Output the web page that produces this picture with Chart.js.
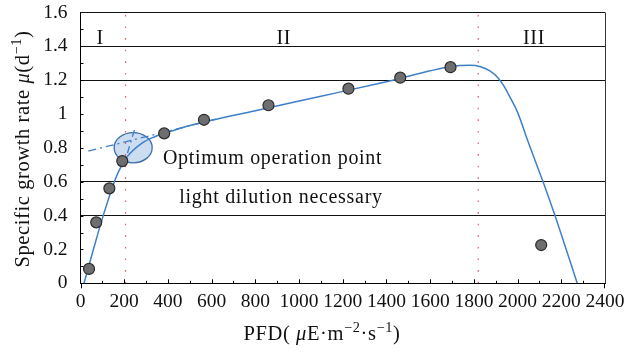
<!DOCTYPE html>
<html>
<head>
<meta charset="utf-8">
<script src="https://cdn.jsdelivr.net/npm/chart.js@4.4.1/dist/chart.umd.min.js"></script>
<style>
  html, body { margin: 0; padding: 0; background: #fff; }
  #wrap { width: 629px; height: 353px; }
</style>
</head>
<body>
<div id="wrap"><canvas id="myChart"></canvas></div>
<script>
// measured points
const pfd = [39, 72, 132, 191, 383, 565, 860, 1226, 1463, 1693, 2108];
const growth = [0.085, 0.36, 0.561, 0.722, 0.886, 0.966, 1.052, 1.15, 1.215, 1.277, 0.226];

// fitted curve
const fitX = [16, 59, 104, 155, 178, 215, 280, 340, 390, 510, 800, 1100, 1400, 1693, 1782, 1830, 1873, 1910, 1940, 1965, 2000, 2050, 2117, 2171, 2273];
const fitY = [0, 0.2, 0.4, 0.6, 0.67, 0.75, 0.827, 0.866, 0.888, 0.935, 1.02, 1.105, 1.191, 1.28, 1.288, 1.28, 1.255, 1.215, 1.16, 1.1, 1.01, 0.83, 0.598, 0.4, 0];

// dash-dot extensions of the two linear parts
const extIIX = [36, 620];
const extIIY = [0.781, 0.97];
const extIX = [215, 250];
const extIY = [0.77, 0.92];

// region borders
const borderX = [206, 1820];

const xTickLabels = ["0", "200", "400", "600", "800", "1000", "1200", "1400", "1600", "1800", "2000", "2200", "2400"];
const yTickLabels = ["0", "0.2", "0.4", "0.6", "0.8", "1", "1.2", "1.4", "1.6"];
const gridY = [0.4, 0.6, 1.2, 1.4, 1.6];

const regions = [
  { text: "I", x: 90, y: 1.413 },
  { text: "II", x: 930, y: 1.413 },
  { text: "III", x: 2075, y: 1.413 },
];
const notes = [
  { text: "Optimum operation point", x: 377, y: 0.705 },
  { text: "light dilution necessary", x: 452, y: 0.474 },
];
const optimum = { x: 241, y: 0.801, rx: 87, ry: 0.089 };

const SERIF = "'Liberation Serif', 'DejaVu Serif', serif";
const BLUE = "#3f7fc8";

function pts(xs, ys) {
  return xs.map((x, i) => ({ x: x, y: ys[i] }));
}

const borderSets = borderX.map((x) => ({
  type: "line",
  data: [{ x: x, y: 0 }, { x: x, y: 1.6 }],
  borderColor: "#e45b5b",
  borderWidth: 1.2,
  borderDash: [1.6, 10],
  pointRadius: 0,
  order: 5,
}));

function drawRich(ctx, parts, size) {
  const sup = size * 0.7;
  let w = 0;
  parts.forEach((p) => {
    ctx.font = (p[1] === "i" ? "italic " : "") + (p[1] === "s" ? sup : size) + "px " + SERIF;
    w += ctx.measureText(p[0]).width;
  });
  let x = -w / 2;
  parts.forEach((p) => {
    ctx.font = (p[1] === "i" ? "italic " : "") + (p[1] === "s" ? sup : size) + "px " + SERIF;
    ctx.fillText(p[0], x, p[1] === "s" ? -size * 0.38 : 0);
    x += ctx.measureText(p[0]).width;
  });
}

const decor = {
  id: "decor",
  beforeDatasetsDraw(chart) {
    const { ctx, scales } = chart;
    const xs = scales.x, ys = scales.y;
    const cx = xs.getPixelForValue(optimum.x);
    const cy = ys.getPixelForValue(optimum.y);
    const rx = xs.getPixelForValue(optimum.x + optimum.rx) - cx;
    const ry = cy - ys.getPixelForValue(optimum.y + optimum.ry);
    ctx.save();
    ctx.beginPath();
    ctx.ellipse(cx, cy, rx, ry, 0, 0, Math.PI * 2);
    ctx.fillStyle = "rgba(176, 202, 234, 0.65)";
    ctx.fill();
    ctx.lineWidth = 1.3;
    ctx.strokeStyle = "#3c6ea8";
    ctx.stroke();
    ctx.restore();
  },
  afterDraw(chart) {
    const { ctx, scales, chartArea } = chart;
    const xs = scales.x, ys = scales.y;
    ctx.save();
    // inside tick marks
    ctx.strokeStyle = "#000";
    ctx.lineWidth = 1;
    ctx.beginPath();
    for (let v = 100; v < 2400; v += 100) {
      const px = Math.round(xs.getPixelForValue(v)) + 0.5;
      const len = v % 200 === 0 ? 4 : 2.5;
      ctx.moveTo(px, chartArea.bottom);
      ctx.lineTo(px, chartArea.bottom - len);
    }
    for (let k = 1; k < 16; k++) {
      const py = Math.round(ys.getPixelForValue(k / 10)) + 0.5;
      ctx.moveTo(chartArea.left, py);
      ctx.lineTo(chartArea.left + 3, py);
    }
    ctx.moveTo(Math.round(chartArea.left) + 0.5, chartArea.bottom);
    ctx.lineTo(Math.round(chartArea.left) + 0.5, chartArea.bottom + 5);
    ctx.moveTo(Math.round(chartArea.right) - 0.5, chartArea.bottom);
    ctx.lineTo(Math.round(chartArea.right) - 0.5, chartArea.bottom + 5);
    ctx.stroke();

    // region labels and notes
    ctx.fillStyle = "#111";
    ctx.letterSpacing = "0.7px";
    ctx.font = "20px " + SERIF;
    ctx.textBaseline = "alphabetic";
    ctx.textAlign = "center";
    regions.forEach((r) => {
      ctx.fillText(r.text, xs.getPixelForValue(r.x), ys.getPixelForValue(r.y));
    });
    ctx.textAlign = "left";
    notes.forEach((n) => {
      ctx.fillText(n.text, xs.getPixelForValue(n.x), ys.getPixelForValue(n.y));
    });

    // axis titles
    ctx.letterSpacing = "0.6px";
    ctx.save();
    ctx.translate(322, 340);
    drawRich(ctx, [["PFD( ", "n"], ["\u03bc", "i"], ["E\u00b7m", "n"], ["\u22122", "s"], ["\u00b7s", "n"], ["\u22121", "s"], [")", "n"]], 20.5);
    ctx.restore();
    ctx.save();
    ctx.translate(29, 149);
    ctx.rotate(-Math.PI / 2);
    drawRich(ctx, [["Specific growth rate ", "n"], ["\u03bc", "i"], ["(d", "n"], ["\u22121", "s"], [")", "n"]], 20.5);
    ctx.restore();
    ctx.restore();
  },
};

const cxx = document.getElementById("myChart").getContext("2d");
new Chart(cxx, {
  type: "scatter",
  data: {
    datasets: [
      {
        label: "Growth rate",
        data: pts(pfd, growth),
        backgroundColor: "#6e6e70",
        borderColor: "#2b2b2b",
        borderWidth: 1.2,
        pointRadius: 5.5,
        order: 0,
      },
      {
        label: "Fit",
        type: "line",
        data: pts(fitX, fitY),
        borderColor: BLUE,
        borderWidth: 1.5,
        pointRadius: 0,
        cubicInterpolationMode: "monotone",
        order: 2,
      },
      {
        label: "Linear II",
        type: "line",
        data: pts(extIIX, extIIY),
        borderColor: BLUE,
        borderWidth: 1.3,
        borderDash: [8, 4, 2, 4],
        pointRadius: 0,
        order: 3,
      },
      {
        label: "Linear I",
        type: "line",
        data: pts(extIX, extIY),
        borderColor: BLUE,
        borderWidth: 1.3,
        borderDash: [7, 4, 2, 4],
        pointRadius: 0,
        order: 3,
      },
      ...borderSets,
    ],
  },
  options: {
    responsive: true,
    maintainAspectRatio: false,
    animation: false,
    layout: { padding: { top: 12.5, right: 24, left: 0, bottom: 0 } },
    plugins: { legend: { display: false }, tooltip: { enabled: false } },
    scales: {
      x: {
        type: "linear",
        min: 0,
        max: 2400,
        afterFit: (s) => {
          s.height = 69.7;
          s.paddingLeft = 0;
          s.paddingRight = 0;
        },
        afterBuildTicks: (s) => { s.ticks = xTickLabels.map((t) => ({ value: Number(t) })); },
        ticks: {
          autoSkip: false,
          maxRotation: 0,
          padding: 7,
          color: "#111",
          font: { family: SERIF, size: 19.5 },
          callback: (v, i) => xTickLabels[i],
        },
        grid: {
          drawTicks: false,
          color: (c) => (c.tick && c.tick.value === 2400 ? "#333" : "rgba(0,0,0,0)"),
        },
        border: { color: "#000", width: 1 },
      },
      y: {
        min: 0,
        max: 1.6,
        afterFit: (s) => {
          s.width = 80.5;
          s.paddingTop = 0;
          s.paddingBottom = 0;
        },
        afterBuildTicks: (s) => { s.ticks = yTickLabels.map((t) => ({ value: Number(t) })); },
        ticks: {
          padding: 13,
          color: "#111",
          font: { family: SERIF, size: 19.5 },
          callback: (v, i) => yTickLabels[i],
        },
        grid: {
          drawTicks: false,
          color: (c) => (c.tick && gridY.includes(c.tick.value) ? "#111" : "rgba(0,0,0,0)"),
        },
        border: { color: "#000", width: 1 },
      },
    },
  },
  plugins: [decor],
});
</script>
</body>
</html>
